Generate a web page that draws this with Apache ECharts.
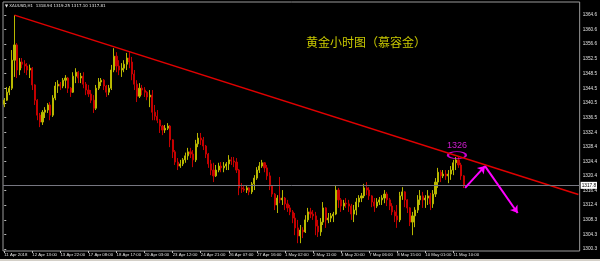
<!DOCTYPE html>
<html><head><meta charset="utf-8">
<script src="https://cdn.jsdelivr.net/npm/echarts@6/dist/echarts.min.js"></script>
<style>html,body{margin:0;padding:0;background:#000}#c{width:600px;height:261px}</style>
</head><body><div id="c"></div>
<script>
const xTickLabels = ['11 Apr 2018','12 Apr 13:00','13 Apr 22:00','17 Apr 08:00','18 Apr 17:00','20 Apr 03:00','23 Apr 12:00','24 Apr 21:00','26 Apr 07:00','27 Apr 16:00','1 May 02:00','2 May 11:00','3 May 20:00','7 May 06:00','8 May 15:00','10 May 01:00','11 May 10:00'];
const barsPerLabel = 11;
const slotCount = 226;
const yTicks = [1300.3,1304.3,1308.3,1312.4,1316.4,1320.4,1324.4,1328.4,1332.4,1336.5,1340.5,1344.5,1348.5,1352.5,1356.6,1360.6,1364.6];

const opens = [
1340.1,1341.2,1343.4,1344.5,1352.2,1356.4,1349.5,1351.7,1351.1,1350.6,
1349.5,1350.0,1345.4,1341.2,1337.1,1335.2,1337.9,1338.5,1339.9,1337.1,
1341.8,1345.1,1345.6,1345.1,1346.7,1347.3,1344.5,1343.4,1347.8,1348.9,
1347.3,1347.8,1345.6,1344.0,1342.9,1341.2,1339.0,1344.5,1346.2,1346.7,
1345.1,1343.4,1344.5,1349.5,1353.3,1350.6,1349.5,1350.0,1351.1,1352.8,
1351.7,1348.4,1345.6,1342.3,1344.5,1344.0,1343.4,1342.1,1342.6,1337.9,
1336.8,1335.7,1334.1,1333.0,1333.5,1334.1,1330.3,1327.0,1324.2,1323.1,
1323.7,1324.8,1325.9,1327.0,1326.4,1324.8,1329.2,1330.8,1330.3,1328.6,
1326.4,1323.7,1322.0,1320.4,1322.0,1323.1,1322.6,1323.1,1323.7,1324.8,
1324.5,1324.2,1322.0,1317.1,1316.8,1316.5,1317.1,1316.0,1318.2,1319.8,
1322.0,1323.1,1324.0,1322.6,1320.4,1317.6,1315.4,1312.4,1314.3,1313.8,
1314.3,1312.7,1311.6,1310.5,1308.8,1306.1,1303.9,1305.5,1305.0,1308.3,
1310.5,1309.9,1309.4,1306.6,1305.0,1307.7,1311.6,1308.3,1308.8,1309.4,
1309.9,1316.5,1313.8,1312.1,1312.9,1312.7,1312.1,1309.9,1311.0,1313.2,
1314.3,1314.9,1317.1,1316.5,1314.9,1313.2,1312.1,1313.2,1313.8,1314.3,
1315.4,1313.8,1312.1,1310.5,1309.4,1308.3,1314.9,1316.0,1313.8,1311.6,
1307.7,1309.4,1311.0,1313.8,1314.9,1313.8,1314.3,1314.9,1312.7,1315.4,
1318.7,1321.4,1320.4,1320.9,1320.4,1320.9,1322.0,1324.0,1324.8,1323.4,
1320.4];
const closes = [
1341.2,1343.4,1344.5,1352.2,1356.4,1349.5,1351.7,1351.1,1350.6,1349.5,
1350.0,1345.4,1341.2,1337.1,1335.2,1337.9,1338.5,1339.9,1337.1,1341.8,
1345.1,1345.6,1345.1,1346.7,1347.3,1344.5,1343.4,1347.8,1348.9,1347.3,
1347.8,1345.6,1344.0,1342.9,1341.2,1339.0,1344.5,1346.2,1346.7,1345.1,
1343.4,1344.5,1349.5,1353.3,1350.6,1349.5,1350.0,1351.1,1352.8,1351.7,
1348.4,1345.6,1342.3,1344.5,1344.0,1343.4,1342.1,1342.6,1337.9,1336.8,
1335.7,1334.1,1333.0,1333.5,1334.1,1330.3,1327.0,1324.2,1323.1,1323.7,
1324.8,1325.9,1327.0,1326.4,1324.8,1329.2,1330.8,1330.3,1328.6,1326.4,
1323.7,1322.0,1320.4,1322.0,1323.1,1322.6,1323.1,1323.7,1324.8,1324.5,
1324.2,1322.0,1317.1,1316.8,1316.5,1317.1,1316.0,1318.2,1319.8,1322.0,
1323.1,1324.0,1322.6,1320.4,1317.6,1315.4,1312.4,1314.3,1313.8,1314.3,
1312.7,1311.6,1310.5,1308.8,1306.1,1303.9,1305.5,1305.0,1308.3,1310.5,
1309.9,1309.4,1306.6,1305.0,1307.7,1311.6,1308.3,1308.8,1309.4,1309.9,
1316.5,1313.8,1312.1,1312.9,1312.7,1312.1,1309.9,1311.0,1313.2,1314.3,
1314.9,1317.1,1316.5,1314.9,1313.2,1312.1,1313.2,1313.8,1314.3,1315.4,
1313.8,1312.1,1310.5,1309.4,1308.3,1314.9,1316.0,1313.8,1311.6,1307.7,
1309.4,1311.0,1313.8,1314.9,1313.8,1314.3,1314.9,1312.7,1315.4,1318.7,
1321.4,1320.4,1320.9,1320.4,1320.9,1322.0,1324.0,1324.8,1323.4,1320.4,
1317.8];
const highs = [
1341.8,1344.8,1345.1,1355.0,1364.6,1356.9,1352.8,1352.8,1352.2,1351.4,
1351.0,1350.3,1345.6,1341.5,1337.7,1338.5,1339.3,1340.4,1340.7,1342.6,
1346.2,1346.7,1346.2,1347.3,1348.1,1347.6,1344.8,1348.9,1350.0,1349.2,
1348.7,1348.9,1346.2,1345.4,1344.0,1342.6,1345.4,1347.3,1347.3,1347.0,
1345.4,1345.4,1350.9,1355.5,1354.4,1352.2,1351.4,1352.2,1354.2,1354.4,
1353.1,1349.5,1346.7,1345.9,1345.4,1344.8,1343.7,1344.0,1344.0,1339.9,
1338.5,1336.0,1334.4,1334.4,1334.9,1334.4,1330.5,1327.5,1325.3,1324.8,
1325.3,1326.8,1328.1,1328.1,1327.5,1330.3,1332.2,1332.2,1331.1,1328.9,
1326.7,1324.8,1324.0,1323.4,1324.0,1324.2,1324.2,1324.2,1326.1,1325.6,
1325.6,1325.3,1322.3,1318.4,1317.9,1317.9,1317.3,1318.7,1320.6,1322.8,
1324.2,1324.8,1324.2,1323.4,1321.4,1317.9,1315.7,1315.1,1320.1,1316.5,
1314.6,1313.8,1312.4,1311.0,1310.2,1308.3,1306.9,1306.3,1309.6,1311.6,
1311.6,1311.0,1310.5,1308.3,1308.8,1313.2,1311.8,1310.2,1310.2,1310.5,
1317.9,1317.1,1314.3,1313.8,1314.3,1313.8,1312.7,1312.4,1314.3,1315.1,
1315.7,1318.2,1318.7,1317.3,1315.1,1314.3,1314.3,1314.6,1315.1,1316.5,
1316.0,1314.3,1312.9,1311.0,1312.4,1316.0,1317.3,1316.2,1314.0,1311.8,
1310.5,1311.8,1315.1,1316.5,1316.0,1315.1,1316.5,1315.7,1316.5,1319.8,
1322.6,1322.0,1322.0,1322.0,1322.0,1323.1,1324.8,1325.6,1325.6,1324.0,
1320.6];
const lows = [
1339.3,1341.0,1342.6,1344.0,1347.6,1347.3,1348.1,1350.0,1348.7,1348.1,
1347.3,1344.0,1339.9,1335.7,1333.8,1334.4,1336.3,1337.7,1335.7,1336.6,
1341.2,1343.2,1344.0,1344.5,1344.5,1343.2,1342.1,1343.2,1345.9,1345.9,
1345.9,1344.5,1342.6,1342.1,1340.4,1337.7,1338.5,1344.0,1345.1,1344.0,
1342.1,1342.6,1344.0,1348.9,1348.9,1348.1,1347.6,1348.9,1349.5,1350.0,
1346.7,1344.0,1340.7,1341.8,1342.6,1342.1,1341.2,1339.3,1335.7,1335.7,
1334.9,1332.2,1331.6,1332.2,1333.0,1328.3,1325.3,1323.4,1322.0,1322.6,
1323.1,1324.0,1324.8,1325.3,1322.8,1324.2,1328.3,1328.9,1327.5,1325.3,
1322.6,1320.6,1318.7,1320.1,1321.4,1321.4,1321.4,1322.0,1322.0,1323.4,
1322.8,1321.2,1315.1,1315.7,1316.0,1315.7,1315.1,1315.4,1316.5,1319.3,
1321.2,1322.6,1321.4,1319.3,1316.5,1314.6,1311.0,1310.2,1312.9,1312.4,
1311.0,1310.5,1309.6,1307.4,1304.1,1301.9,1301.9,1303.3,1304.7,1307.7,
1308.8,1308.3,1304.1,1303.6,1303.9,1306.9,1306.1,1307.4,1307.7,1307.7,
1309.6,1311.6,1310.5,1311.0,1311.6,1310.5,1308.3,1307.7,1309.6,1311.8,
1313.2,1314.3,1315.1,1313.8,1311.8,1310.5,1311.6,1312.4,1312.4,1312.9,
1312.1,1311.0,1309.6,1307.7,1306.1,1307.7,1313.8,1311.8,1310.2,1306.6,
1304.1,1306.3,1310.2,1312.4,1311.6,1311.6,1312.4,1311.0,1311.6,1314.6,
1317.1,1318.7,1319.8,1319.3,1318.4,1319.3,1320.6,1322.0,1322.6,1319.3,
1317.1];

const lastPrice = 1317.8;
const trendLine = [[4, 1364.6], [225, 1315.3]];
const arrowPath = [[180.6, 1317.1], [188.4, 1323.1], [201.2, 1310.2]];
const peakMark = [177.4, 1326.1];
const peakText = '1326';
const titleText = '黄金小时图（慕容金）';
const headerText = '▼ XAUUSD,H1  1318.94 1319.25 1317.10 1317.81';

const categories = [];
for (let i = 0; i < slotCount; i++) {
  const k = i / barsPerLabel;
  categories.push(Number.isInteger(k) && xTickLabels[k] ? xTickLabels[k] : '');
}
const candleData = opens.map((o, i) => [o, closes[i], lows[i], highs[i]]);
const showIfLabeled = (idx, val) => val !== '';

const chart = echarts.init(document.getElementById('c'), null, {renderer: 'canvas'});
chart.setOption({
  animation: false,
  backgroundColor: '#000',
  grid: {left: 3, right: 15, top: 2, bottom: 10, show: true, borderColor: '#9a9a9a', borderWidth: 1, backgroundColor: '#000'},
  xAxis: [
    {type: 'category', data: categories, boundaryGap: true,
     axisLine: {show: false},
     axisTick: {show: true, interval: showIfLabeled, alignWithLabel: true, length: 2, lineStyle: {color: '#bbb'}},
     axisLabel: {interval: showIfLabeled, align: 'left', fontSize: 4.3, color: '#e0e0e0', margin: 2, fontFamily: 'Liberation Sans', hideOverlap: false},
     splitLine: {show: false}},
    {type: 'value', min: -0.5, max: slotCount - 0.5, show: false}
  ],
  yAxis: {type: 'value', position: 'right', min: 1299.75, max: 1368.2, scale: true,
    axisLine: {show: false},
    splitLine: {show: false},
    axisTick: {show: true, length: 2, customValues: yTicks, lineStyle: {color: '#bbb'}},
    axisLabel: {customValues: yTicks, fontSize: 4.7, color: '#e0e0e0', margin: 3, fontFamily: 'Liberation Sans',
      formatter: v => v.toFixed(1)}},
  graphic: [
    {type: 'text', left: 5, top: 4, style: {text: headerText, fontSize: 4, fill: '#e8e8e8', fontFamily: 'DejaVu Sans'}},
    {type: 'text', left: 306, top: 36, style: {text: titleText, fontSize: 12, fill: '#c8c800', fontFamily: 'Noto Sans CJK SC'}},
    {type: 'rect', left: 0, top: 259, shape: {width: 600, height: 2}, style: {fill: '#d4d0c8'}}
  ],
  series: [
    {type: 'candlestick', xAxisIndex: 0, yAxisIndex: 0, data: candleData, barWidth: 1.6,
     itemStyle: {color: '#b8b800', color0: '#c40000', borderColor: '#b8b800', borderColor0: '#c40000', borderWidth: 1},
     markLine: {silent: true, symbol: ['none', 'none'], animation: false,
       lineStyle: {color: '#767680', width: 1, type: 'solid'},
       label: {show: true, position: 'end', formatter: lastPrice.toFixed(1), backgroundColor: '#fff', color: '#000', fontSize: 4.7, padding: [1, 1], distance: 1, fontFamily: 'Liberation Sans'},
       data: [{yAxis: lastPrice}]}},
    {type: 'line', xAxisIndex: 1, yAxisIndex: 0, data: trendLine, symbol: 'none',
     lineStyle: {color: '#e00000', width: 1.5}, silent: true,
     markLine: {silent: true, symbol: ['none', 'arrow'], symbolSize: 7, animation: false,
       lineStyle: {color: '#ff00ff', width: 2, type: 'solid'}, label: {show: false},
       data: [[{coord: arrowPath[0]}, {coord: arrowPath[1]}], [{coord: arrowPath[1]}, {coord: arrowPath[2]}]]}},
    {type: 'scatter', xAxisIndex: 1, yAxisIndex: 0, data: [peakMark], symbol: 'circle', symbolSize: [18, 7], silent: true,
     itemStyle: {color: 'rgba(0,0,0,0)', borderColor: '#ff00ff', borderWidth: 1.5},
     label: {show: true, position: 'top', distance: 1, formatter: peakText, color: '#ff22ff', fontSize: 9, fontFamily: 'Liberation Sans'}}
  ]
});
</script></body></html>
